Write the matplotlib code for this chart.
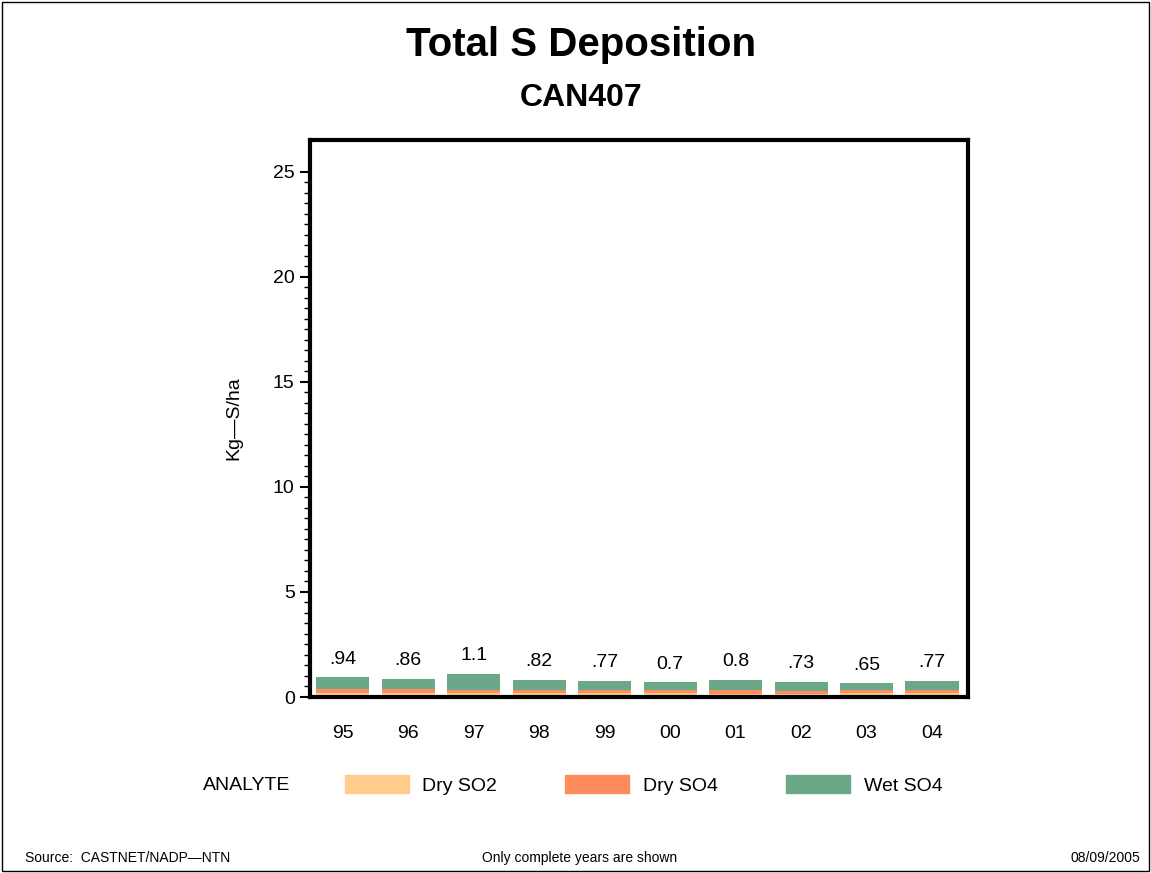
import matplotlib.pyplot as plt
from matplotlib.patches import Patch, Rectangle
import numpy as np

plt.rcParams['font.family'] = ['Liberation Sans', 'DejaVu Sans']

years = ['95', '96', '97', '98', '99', '00', '01', '02', '03', '04']
dry_so2 = [0.19, 0.20, 0.20, 0.19, 0.20, 0.18, 0.15, 0.16, 0.18, 0.18]
dry_so4 = [0.20, 0.16, 0.14, 0.14, 0.12, 0.14, 0.17, 0.14, 0.14, 0.14]
wet_so4 = [0.55, 0.50, 0.76, 0.49, 0.45, 0.38, 0.48, 0.43, 0.33, 0.45]
totals = ['.94', '.86', '1.1', '.82', '.77', '0.7', '0.8', '.73', '.65', '.77']

c_so2 = '#FFCC8C'
c_so4 = '#FF8C5C'
c_wet = '#6BA888'

fig = plt.figure(figsize=(11.51, 8.73), dpi=100)
ax = fig.add_axes([310/1151, 1-697/873, (968-310)/1151, (697-140)/873])

x = np.arange(len(years))
w = 0.81
a = np.array(dry_so2)
b = np.array(dry_so4)
c = np.array(wet_so4)
ax.bar(x, a, w, color=c_so2)
ax.bar(x, b, w, bottom=a, color=c_so4)
ax.bar(x, c, w, bottom=a+b, color=c_wet)
for xi, top, lab in zip(x, a+b+c, totals):
    ax.annotate(lab, (xi, top), xytext=(0, 7), textcoords='offset points',
                ha='center', va='bottom', fontsize=14)

ax.set_xlim(-0.5, 9.55)
ax.set_ylim(0, 26.5)
ax.set_yticks([0, 5, 10, 15, 20, 25])
ax.set_yticks(np.arange(0, 25.01, 0.5), minor=True)
ax.set_xticks(x)
ax.set_xticklabels(years, fontsize=14)
ax.tick_params(axis='x', length=0, pad=20)
ax.tick_params(axis='y', which='major', length=7, width=1.5, labelsize=14, pad=4)
ax.tick_params(axis='y', which='minor', length=4, width=1)
for s in ax.spines.values():
    s.set_linewidth(3)
ax.set_ylabel('Kg\u2014S/ha', fontsize=14, labelpad=22)

fig.text(0.505, 1-45/873, 'Total S Deposition', ha='center', va='center',
         fontsize=29, fontweight='bold')
fig.text(0.505, 1-98/873, 'CAN407', ha='center', va='center',
         fontsize=23, fontweight='bold')

fig.text(247/1151, 1-785/873, 'ANALYTE', ha='center', va='center', fontsize=14)
handles = [Patch(color=c_so2, label='Dry SO2'),
           Patch(color=c_so4, label='Dry SO4'),
           Patch(color=c_wet, label='Wet SO4')]
fig.legend(handles=handles, ncol=3, loc='center left',
           bbox_to_anchor=(327/1151, 1-785/873), frameon=False, fontsize=14,
           handlelength=3.3, handleheight=1.0, handletextpad=0.7,
           columnspacing=3.5)

fig.text(25/1151, 1-858/873, 'Source:  CASTNET/NADP\u2014NTN', ha='left',
         va='center', fontsize=10)
fig.text(580/1151, 1-858/873, 'Only complete years are shown', ha='center',
         va='center', fontsize=10)
fig.text(1140/1151, 1-858/873, '08/09/2005', ha='right', va='center', fontsize=10)

fig.patches.append(Rectangle((0.002, 0.002), 0.996, 0.996, transform=fig.transFigure,
                             fill=False, edgecolor='black', linewidth=1))

fig.savefig('out.png', dpi=100)
